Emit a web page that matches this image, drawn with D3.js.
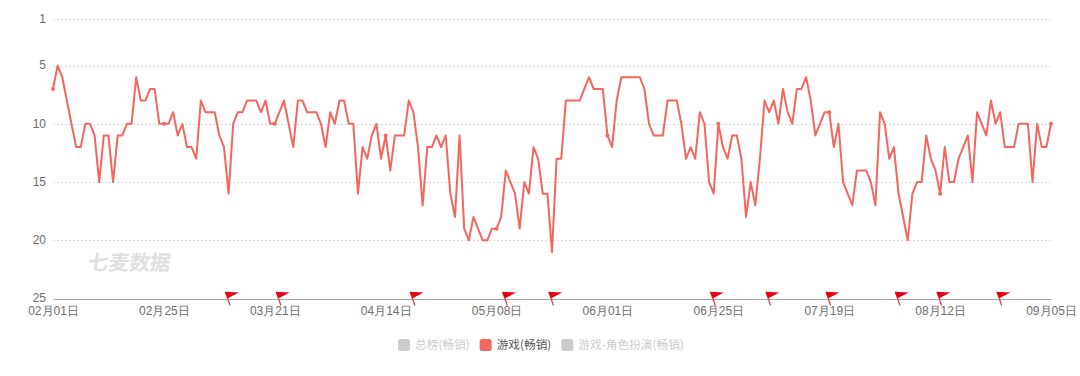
<!DOCTYPE html>
<html>
<head>
<meta charset="utf-8">
<script src="https://cdnjs.cloudflare.com/ajax/libs/d3/7.8.5/d3.min.js"></script>
<style>
  html, body { margin: 0; padding: 0; background: #fff; }
  svg { display: block; font-family: "Noto Sans CJK SC", "Noto Sans", sans-serif; }
</style>
</head>
<body>
<svg id="chart" width="1080" height="376"></svg>
<script>
// daily rank in 游戏(畅销), 02月01日 to 09月05日
const ranks = [
  7, 5, 6, 8, 10, 12, 12, 10, 10, 11, 15, 11, 11, 15, 11, 11, 10, 10, 6, 8, 8, 7, 7, 10,
  10, 10, 9, 11, 10, 12, 12, 13, 8, 9, 9, 9, 11, 12, 16, 10, 9, 9, 8, 8, 8, 9, 8, 10,
  10, 9, 8, 10, 12, 8, 8, 9, 9, 9, 10, 12, 9, 10, 8, 8, 10, 10, 16, 12, 13, 11, 10, 13,
  11, 14, 11, 11, 11, 8, 9, 12, 17, 12, 12, 11, 12, 11, 16, 18, 11, 19, 20, 18, 19, 20, 20, 19,
  19, 18, 14, 15, 16, 19, 15, 16, 12, 13, 16, 16, 21, 13, 13, 8, 8, 8, 8, 7, 6, 7, 7, 7,
  11, 12, 8, 6, 6, 6, 6, 6, 7, 10, 11, 11, 11, 8, 8, 8, 10, 13, 12, 13, 9, 10, 15, 16,
  10, 12, 13, 11, 11, 13, 18, 15, 17, 13, 8, 9, 8, 10, 7, 9, 10, 7, 7, 6, 8, 11, 10, 9,
  9, 12, 10, 15, 16, 17, 14, 14, 14, 15, 17, 9, 10, 13, 12, 16, 18, 20, 16, 15, 15, 11, 13, 14,
  16, 12, 15, 15, 13, 12, 11, 15, 9, 10, 11, 8, 10, 9, 12, 12, 12, 10, 10, 10, 15, 10, 12, 12,
  10
];
const xTickLabels = ['02月01日', '02月25日', '03月21日', '04月14日', '05月08日', '06月01日', '06月25日', '07月19日', '08月12日', '09月05日'];
const xTickEvery = 24;
const yTicks = [1, 5, 10, 15, 20, 25];
// days (from 02月01日) that carry a red flag
const flagDays = [38, 49, 78, 98, 108, 143, 155, 168, 183, 192, 205];
const legendNames = ['总榜(畅销)', '游戏(畅销)', '游戏-角色扮演(畅销)'];
const legendActive = [false, true, false];

const lineColor = '#f4665f';
const svg = d3.select('#chart');

const x = d3.scaleLinear().domain([0, ranks.length - 1]).range([53, 1051]);
const y = d3.scaleLinear().domain([1, 25]).range([19, 298.5]);

// grid
svg.append('g')
  .selectAll('line')
  .data(yTicks.slice(0, -1))
  .join('line')
  .attr('x1', x(0))
  .attr('x2', x(ranks.length - 1))
  .attr('y1', d => Math.round(y(d)) + 0.5)
  .attr('y2', d => Math.round(y(d)) + 0.5)
  .attr('stroke', '#dcdcdc')
  .attr('stroke-dasharray', '2,2');

// y axis
const yAxis = svg.append('g')
  .attr('transform', 'translate(46,-0.5)')
  .call(d3.axisLeft(y).tickValues(yTicks).tickSize(0).tickPadding(0));
yAxis.select('.domain').remove();
yAxis.selectAll('text').attr('font-size', 12).attr('fill', '#6e6e6e').attr('font-family', 'inherit');

// x axis
const xAxis = svg.append('g')
  .attr('transform', 'translate(0,299)')
  .call(d3.axisBottom(x)
    .tickValues(xTickLabels.map((d, i) => i * xTickEvery))
    .tickFormat((d, i) => xTickLabels[i])
    .tickSize(0)
    .tickPadding(7));
xAxis.select('.domain').attr('stroke', '#a6a9ad').attr('stroke-width', 1);
xAxis.selectAll('text').attr('font-size', 12).attr('fill', '#6e6e6e').attr('font-family', 'inherit');

// watermark
svg.append('text')
  .attr('transform', 'translate(87,270) skewX(-8)')
  .attr('font-size', 20.7)
  .attr('font-weight', 700)
  .attr('fill', '#e0e0e0')
  .text('七麦数据');

// rank line
const line = d3.line()
  .x((d, i) => x(i))
  .y(d => y(d));

svg.append('path')
  .datum(ranks)
  .attr('fill', 'none')
  .attr('stroke', lineColor)
  .attr('stroke-width', 2)
  .attr('stroke-linejoin', 'round')
  .attr('d', line);

svg.append('g')
  .selectAll('circle')
  .data(ranks.map((d, i) => [i, d]).filter(d => d[0] % xTickEvery == 0))
  .join('circle')
  .attr('cx', d => x(d[0]))
  .attr('cy', d => y(d[1]))
  .attr('r', 2)
  .attr('fill', lineColor);

// flags
const flags = svg.append('g')
  .selectAll('g')
  .data(flagDays)
  .join('g')
  .attr('transform', d => `translate(${x(d)},${y(25)})`);

flags.append('line')
  .attr('x1', -3)
  .attr('y1', -6)
  .attr('x2', 1.5)
  .attr('y2', 7)
  .attr('stroke', '#e8404a')
  .attr('stroke-width', 1.3);

flags.append('path')
  .attr('d', 'M-3.8,-6.8L10.2,-6L-0.8,-0.2Z')
  .attr('fill', '#e60012');

// legend
const legend = svg.append('g');
let lx = 398;
legendNames.forEach((name, i) => {
  const on = legendActive[i];
  legend.append('rect')
    .attr('x', lx)
    .attr('y', 339)
    .attr('width', 12)
    .attr('height', 12)
    .attr('rx', 2.5)
    .attr('fill', on ? lineColor : '#cccccc');
  const t = legend.append('text')
    .attr('x', lx + 17)
    .attr('y', 349)
    .attr('font-size', 11.7)
    .attr('fill', on ? '#555' : '#ccc')
    .text(name);
  lx += 17 + t.node().getComputedTextLength() + 10;
});
</script>
</body>
</html>
